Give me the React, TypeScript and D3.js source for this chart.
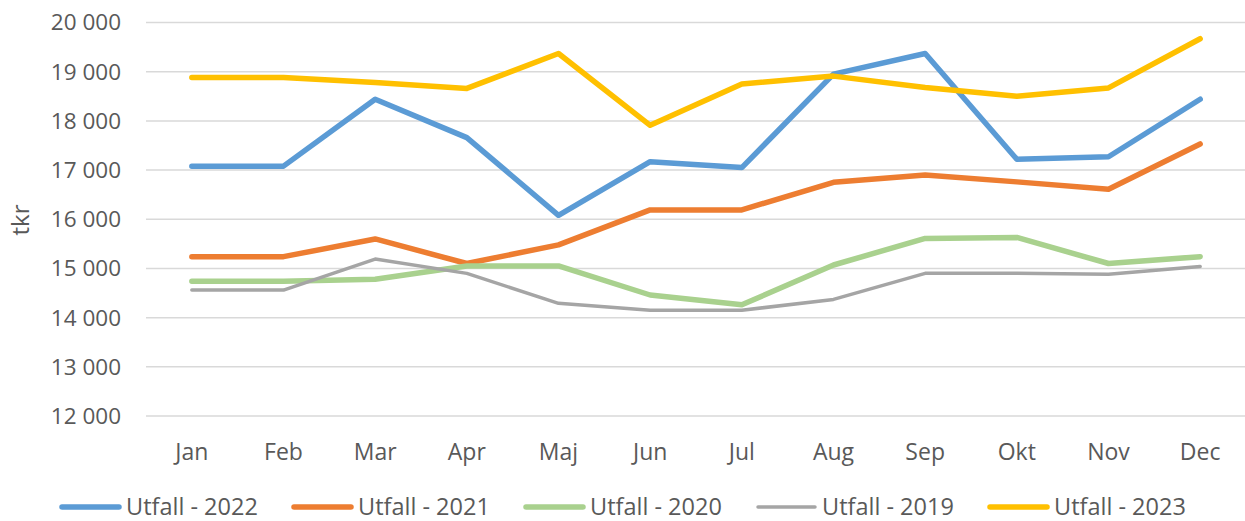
import React, { useEffect, useRef } from 'react';
import * as d3 from 'd3';

const months = ['Jan', 'Feb', 'Mar', 'Apr', 'Maj', 'Jun', 'Jul', 'Aug', 'Sep', 'Okt', 'Nov', 'Dec'];

const utfall2022 = [17080, 17080, 18440, 17660, 16080, 17170, 17050, 18950, 19370, 17220, 17270, 18440];
const utfall2021 = [15240, 15240, 15600, 15100, 15480, 16190, 16190, 16750, 16900, 16760, 16610, 17530];
const utfall2020 = [14740, 14740, 14780, 15050, 15050, 14460, 14260, 15070, 15610, 15630, 15100, 15240];
const utfall2019 = [14560, 14560, 15190, 14900, 14290, 14150, 14150, 14370, 14900, 14900, 14880, 15040];
const utfall2023 = [18880, 18880, 18780, 18660, 19370, 17910, 18750, 18910, 18680, 18500, 18670, 19670];

const yTicks = [12000, 13000, 14000, 15000, 16000, 17000, 18000, 19000, 20000];

const series = [
  { name: 'Utfall - 2022', values: utfall2022, color: '#5B9BD5', width: 5.5 },
  { name: 'Utfall - 2021', values: utfall2021, color: '#ED7D31', width: 5.5 },
  { name: 'Utfall - 2020', values: utfall2020, color: '#A9D18E', width: 5.5 },
  { name: 'Utfall - 2019', values: utfall2019, color: '#A5A5A5', width: 3.5 },
  { name: 'Utfall - 2023', values: utfall2023, color: '#FFC000', width: 5.5 },
];

const App = () => {
  const ref = useRef<SVGSVGElement>(null);
  const width = 1245;
  const height = 521;
  const font = '"Open Sans", sans-serif';
  const textColor = '#595959';

  useEffect(() => {
    const svg = d3.select(ref.current);
    svg.selectAll('*').remove();

    // scales
    const x = d3.scaleBand().domain(months).range([146, 1246]);
    const y = d3.scaleLinear().domain([12000, 20000]).range([416, 22.5]);

    // gridlines
    svg
      .append('g')
      .selectAll('line')
      .data(yTicks)
      .join('line')
      .attr('x1', 146)
      .attr('x2', 1246)
      .attr('y1', (d) => y(d))
      .attr('y2', (d) => y(d))
      .attr('stroke', '#D9D9D9')
      .attr('stroke-width', 1.5);

    // y tick labels
    const fmt = (v: number) => d3.format(',')(v).replace(',', ' ');
    svg
      .append('g')
      .selectAll('text')
      .data(yTicks)
      .join('text')
      .attr('x', 121)
      .attr('y', (d) => y(d))
      .attr('dy', '0.35em')
      .attr('text-anchor', 'end')
      .attr('font-family', font)
      .attr('font-size', 22.5)
      .attr('fill', textColor)
      .text(fmt);

    // y axis title
    svg
      .append('text')
      .attr('transform', 'translate(21,220) rotate(-90)')
      .attr('text-anchor', 'middle')
      .attr('dy', '0.35em')
      .attr('font-family', font)
      .attr('font-size', 24)
      .attr('fill', textColor)
      .text('tkr');

    // x labels
    svg
      .append('g')
      .selectAll('text')
      .data(months)
      .join('text')
      .attr('x', (d) => (x(d) as number) + x.bandwidth() / 2)
      .attr('y', 452)
      .attr('dy', '0.35em')
      .attr('text-anchor', 'middle')
      .attr('font-family', font)
      .attr('font-size', 23)
      .attr('fill', textColor)
      .text((d) => d);

    // lines
    const line = d3
      .line<number>()
      .x((_, i) => (x(months[i]) as number) + x.bandwidth() / 2)
      .y((d) => y(d));

    series.forEach((s) => {
      svg
        .append('path')
        .datum(s.values)
        .attr('d', line)
        .attr('fill', 'none')
        .attr('stroke', s.color)
        .attr('stroke-width', s.width)
        .attr('stroke-linecap', 'round')
        .attr('stroke-linejoin', 'round');
    });

    // legend
    const legend = svg.append('g').attr('transform', 'translate(62,507)');
    series.forEach((s, i) => {
      const g = legend.append('g').attr('transform', `translate(${i * 232},0)`);
      g.append('line')
        .attr('x1', 0)
        .attr('x2', 57)
        .attr('stroke', s.color)
        .attr('stroke-width', s.width)
        .attr('stroke-linecap', 'round');
      g.append('text')
        .attr('x', 64)
        .attr('dy', '0.35em')
        .attr('font-family', font)
        .attr('font-size', 23.5)
        .attr('fill', textColor)
        .text(s.name);
    });
  }, []);

  return (
    <div style={{ position: 'absolute', top: 0, left: 0 }}>
      <svg ref={ref} width={width} height={height} style={{ display: 'block', background: '#fff' }}></svg>
    </div>
  );
};

export default App;
